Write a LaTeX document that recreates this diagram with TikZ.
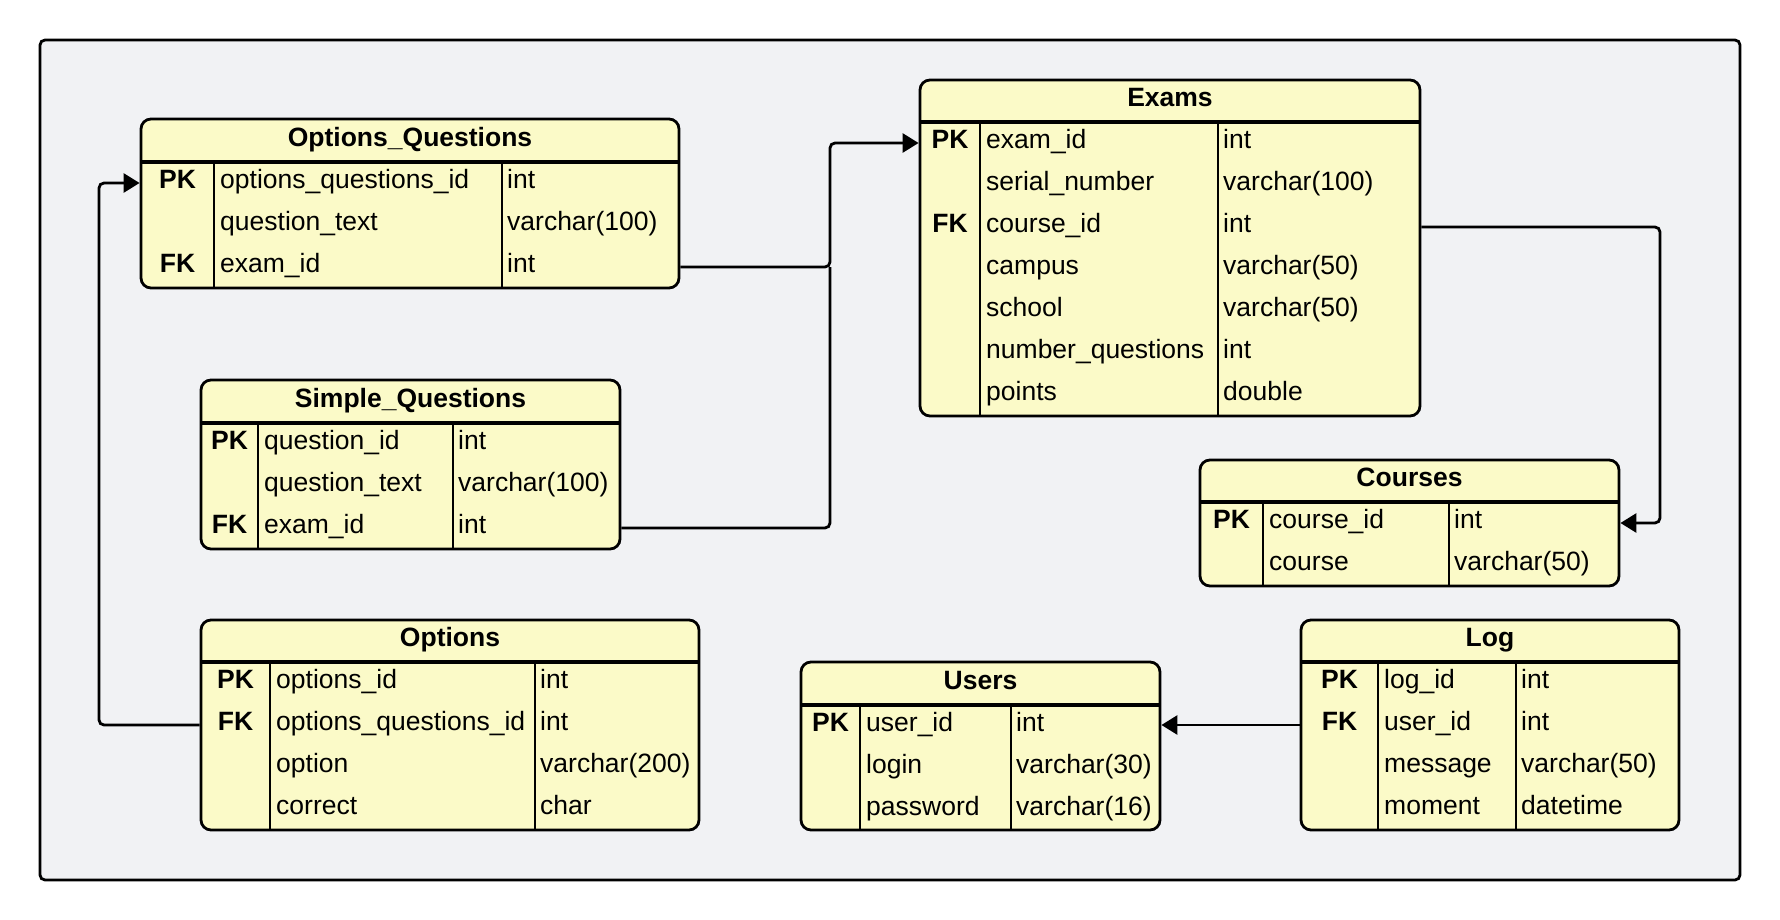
\documentclass[tikz,border=0pt]{standalone}
\usepackage{fontspec}
\setmainfont{Liberation Sans}
\usetikzlibrary{arrows.meta}
\definecolor{tblfill}{HTML}{FBFAC8}
\definecolor{pagebg}{HTML}{F1F2F4}
\tikzset{
  tbl/.style={draw, line width=2.8pt, fill=tblfill, rounded corners=10pt, inner sep=0pt},
  hrule/.style={line width=3.4pt},
  crule/.style={line width=2.8pt},
  cell/.style={font=\fontsize{26.5}{30}\selectfont, text height=19pt, text depth=7.5pt, inner sep=0pt},
  ttl/.style={cell, font=\fontsize{26.5}{30}\selectfont\bfseries},
  keycell/.style={ttl},
  fld/.style={cell, anchor=west},
  link/.style={line width=2.8pt, rounded corners=5pt},
  fk/.style={link, -{Triangle[length=16pt,width=19pt]}}
}
\begin{document}
\begin{tikzpicture}[x=1pt,y=-1pt]
\useasboundingbox (0,0) rectangle (1780,920);
\draw[line width=2.8pt, fill=pagebg, rounded corners=5pt] (40,40) rectangle (1740,880);

% Options_Questions
\node[tbl, minimum width=538pt, minimum height=169pt] (oq) at (410,203.5) {};
\draw[hrule] (141,162) -- (679,162);
\draw[crule] (214,162) -- (214,288);
\draw[crule] (502,162) -- (502,288);
\node[ttl] (oq-title) at (410,140.5) {Options\_Questions};
\foreach \k/\f/\t [count=\i] in {PK/options\_questions\_id/int, {}/question\_text/varchar(100), FK/exam\_id/int} {
  \node[keycell] (oq-key\i) at (177.5,{141+42*\i}) {\k};
  \node[fld] (oq-fld\i) at (220,{141+42*\i}) {\f};
  \node[fld] (oq-type\i) at (507,{141+42*\i}) {\t};
}

% Exams
\node[tbl, minimum width=500pt, minimum height=336pt] (ex) at (1170,248) {};
\draw[hrule] (920,122) -- (1420,122);
\draw[crule] (980,122) -- (980,416);
\draw[crule] (1218,122) -- (1218,416);
\node[ttl] (ex-title) at (1170,101) {Exams};
\foreach \k/\f/\t [count=\i] in {PK/exam\_id/int, {}/serial\_number/varchar(100), FK/course\_id/int, {}/campus/varchar(50), {}/school/varchar(50), {}/number\_questions/int, {}/points/double} {
  \node[keycell] (ex-key\i) at (950,{101+42*\i}) {\k};
  \node[fld] (ex-fld\i) at (986,{101+42*\i}) {\f};
  \node[fld] (ex-type\i) at (1223,{101+42*\i}) {\t};
}

% Simple_Questions
\node[tbl, minimum width=419pt, minimum height=169pt] (sq) at (410.5,464.5) {};
\draw[hrule] (201,423) -- (620,423);
\draw[crule] (258,423) -- (258,549);
\draw[crule] (453,423) -- (453,549);
\node[ttl] (sq-title) at (410.5,401.5) {Simple\_Questions};
\foreach \k/\f/\t [count=\i] in {PK/question\_id/int, {}/question\_text/varchar(100), FK/exam\_id/int} {
  \node[keycell] (sq-key\i) at (229.5,{402+42*\i}) {\k};
  \node[fld] (sq-fld\i) at (264,{402+42*\i}) {\f};
  \node[fld] (sq-type\i) at (458,{402+42*\i}) {\t};
}

% Courses
\node[tbl, minimum width=419pt, minimum height=126pt] (co) at (1409.5,523) {};
\draw[hrule] (1200,502) -- (1619,502);
\draw[crule] (1263,502) -- (1263,586);
\draw[crule] (1449,502) -- (1449,586);
\node[ttl] (co-title) at (1409.5,481) {Courses};
\foreach \k/\f/\t [count=\i] in {PK/course\_id/int, {}/course/varchar(50)} {
  \node[keycell] (co-key\i) at (1231.5,{481+42*\i}) {\k};
  \node[fld] (co-fld\i) at (1269,{481+42*\i}) {\f};
  \node[fld] (co-type\i) at (1454,{481+42*\i}) {\t};
}

% Options
\node[tbl, minimum width=498pt, minimum height=210pt] (op) at (450,725) {};
\draw[hrule] (201,662) -- (699,662);
\draw[crule] (270,662) -- (270,830);
\draw[crule] (535,662) -- (535,830);
\node[ttl] (op-title) at (450,641) {Options};
\foreach \k/\f/\t [count=\i] in {PK/options\_id/int, FK/options\_questions\_id/int, {}/option/varchar(200), {}/correct/char} {
  \node[keycell] (op-key\i) at (235.5,{641+42*\i}) {\k};
  \node[fld] (op-fld\i) at (276,{641+42*\i}) {\f};
  \node[fld] (op-type\i) at (540,{641+42*\i}) {\t};
}

% Users
\node[tbl, minimum width=359pt, minimum height=168pt] (us) at (980.5,746) {};
\draw[hrule] (801,705) -- (1160,705);
\draw[crule] (860,705) -- (860,830);
\draw[crule] (1011,705) -- (1011,830);
\node[ttl] (us-title) at (980.5,683.5) {Users};
\foreach \k/\f/\t [count=\i] in {PK/user\_id/int, {}/login/varchar(30), {}/password/varchar(16)} {
  \node[keycell] (us-key\i) at (830.5,{684+42*\i}) {\k};
  \node[fld] (us-fld\i) at (866,{684+42*\i}) {\f};
  \node[fld] (us-type\i) at (1016,{684+42*\i}) {\t};
}

% Log
\node[tbl, minimum width=378pt, minimum height=210pt] (lg) at (1490,725) {};
\draw[hrule] (1301,662) -- (1679,662);
\draw[crule] (1378,662) -- (1378,830);
\draw[crule] (1516,662) -- (1516,830);
\node[ttl] (lg-title) at (1490,641) {Log};
\foreach \k/\f/\t [count=\i] in {PK/log\_id/int, FK/user\_id/int, {}/message/varchar(50), {}/moment/datetime} {
  \node[keycell] (lg-key\i) at (1339.5,{641+42*\i}) {\k};
  \node[fld] (lg-fld\i) at (1384,{641+42*\i}) {\f};
  \node[fld] (lg-type\i) at (1521,{641+42*\i}) {\t};
}

% relations
\coordinate (midbus) at (830,0);
\coordinate (leftbus) at (99,0);
\coordinate (rightbus) at (1660,0);
\draw[link] (sq.east |- sq-fld3) -- (midbus |- sq-fld3) -- (midbus |- oq-fld3);
\draw[fk] (oq.east |- oq-fld3) -- (midbus |- oq-fld3) -- (midbus |- ex-fld1) -- (ex.west |- ex-fld1);
\draw[fk] (op.west |- op-fld2) -- (leftbus |- op-fld2) -- (leftbus |- oq-fld1) -- (oq.west |- oq-fld1);
\draw[fk] (ex.east |- ex-fld3) -- (rightbus |- ex-fld3) -- (rightbus |- co-fld1) -- (co.east |- co-fld1);
\draw[fk] (lg.west |- lg-fld2) -- (us.east |- lg-fld2);
\end{tikzpicture}
\end{document}
